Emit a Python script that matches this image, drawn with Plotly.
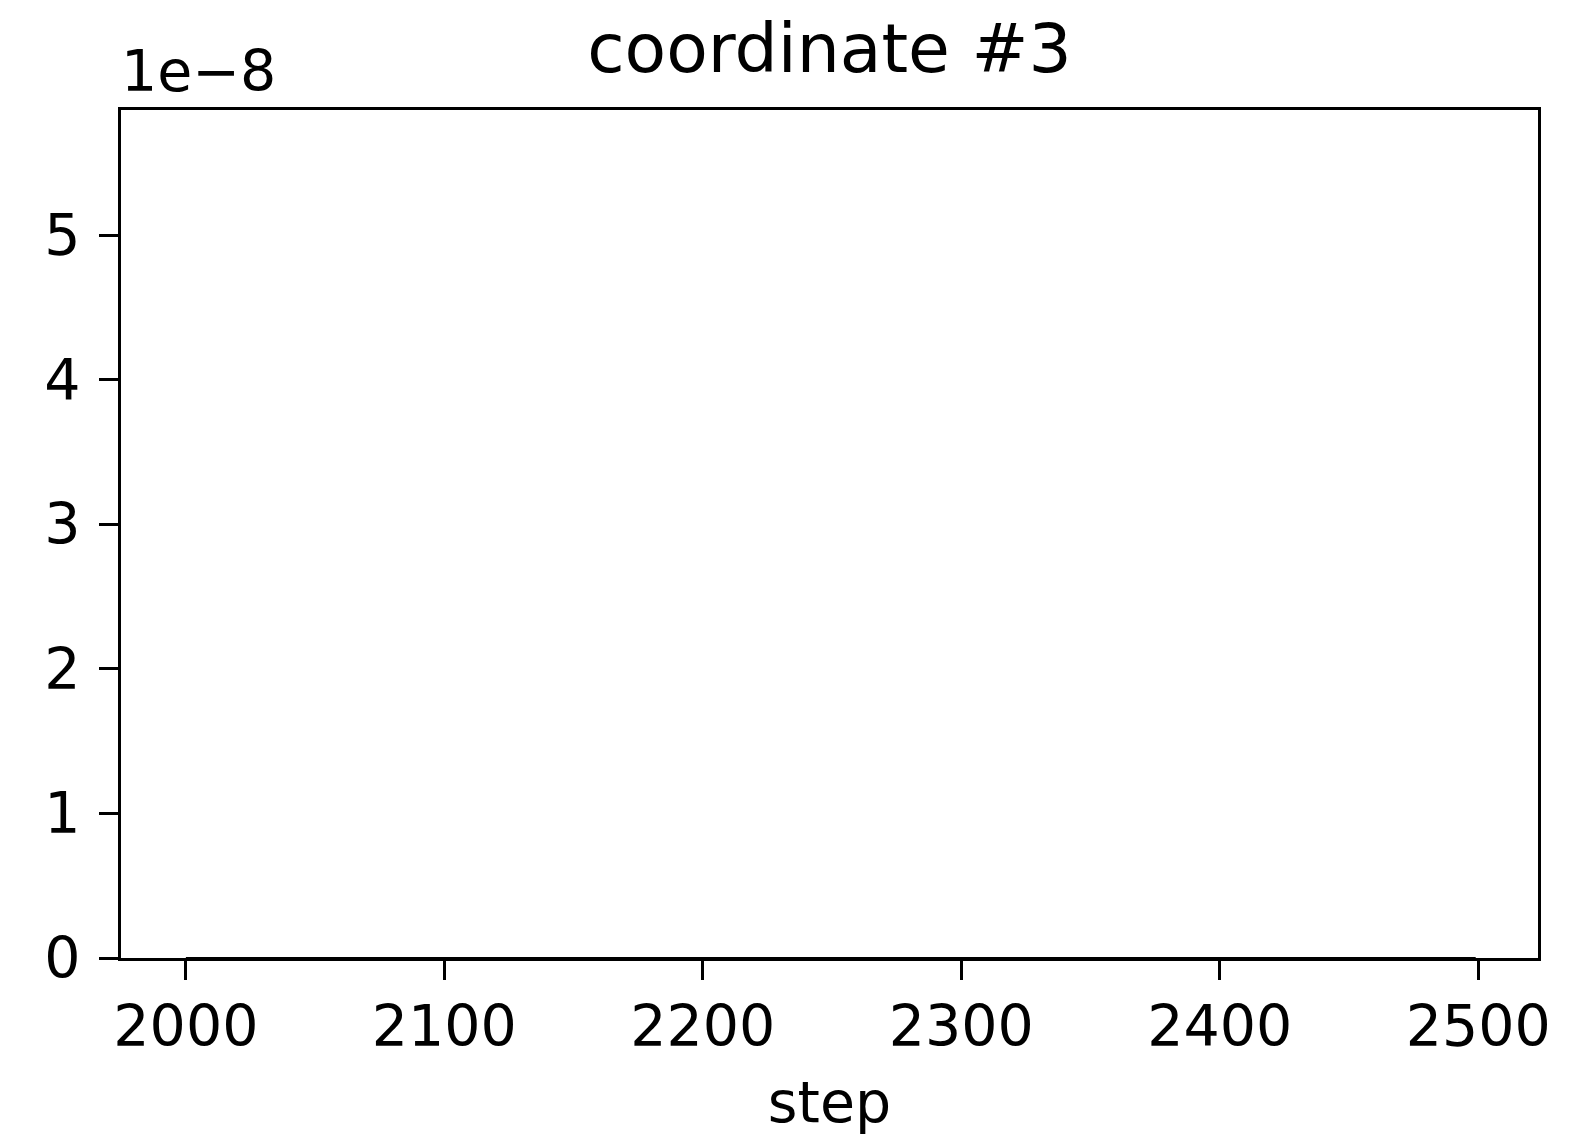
import plotly.graph_objects as go

# Data (all visible values sit at zero)
steps = [2000, 2499]
values = [0.0, 0.0]
x_ticks = [2000, 2100, 2200, 2300, 2400, 2500]
y_tick_labels = ["0", "1", "2", "3", "4", "5"]
y_scale = 1e-8

W, H = 1589, 1135
L, R, T, B = 121, 1538, 110, 958

fig = go.Figure()
fig.add_trace(go.Scatter(x=steps, y=values, mode="lines",
                         line=dict(color="black", width=2), showlegend=False))

FS = 57
fig.update_layout(
    width=W, height=H,
    margin=dict(l=L, r=W - R, t=T, b=H - B),
    plot_bgcolor="white", paper_bgcolor="white",
    font=dict(family="DejaVu Sans", size=FS, color="black"),
    title=dict(text="coordinate #3", x=(L + R) / 2 / W, xanchor="center",
               y=1 - 48 / H, yanchor="middle", font=dict(size=68, family="DejaVu Sans", color="black")),
    xaxis=dict(range=[1974.9, 2523.1], tickvals=x_ticks, ticks="outside", ticklen=19, tickwidth=3.3,
               tickcolor="black", showline=True, linecolor="black", linewidth=3.3, mirror=True,
               showgrid=False, zeroline=False, tickfont=dict(size=FS), ticklabelstandoff=-3,
               title=dict(text="step", font=dict(size=FS), standoff=26)),
    yaxis=dict(range=[0, 5.867e-8], tickvals=[i * y_scale for i in range(6)], ticktext=y_tick_labels,
               ticks="outside", ticklen=19, tickwidth=3.3, tickcolor="black", showline=True,
               linecolor="black", linewidth=3.3, mirror=True, showgrid=False, zeroline=False,
               tickfont=dict(size=FS), ticklabelstandoff=7),
    annotations=[dict(text="1e\u22128", xref="paper", yref="paper", x=0, y=1, xanchor="left",
                      yanchor="bottom", yshift=4, xshift=-2, showarrow=False, font=dict(size=FS))],
)

fig.write_html("out.html")
